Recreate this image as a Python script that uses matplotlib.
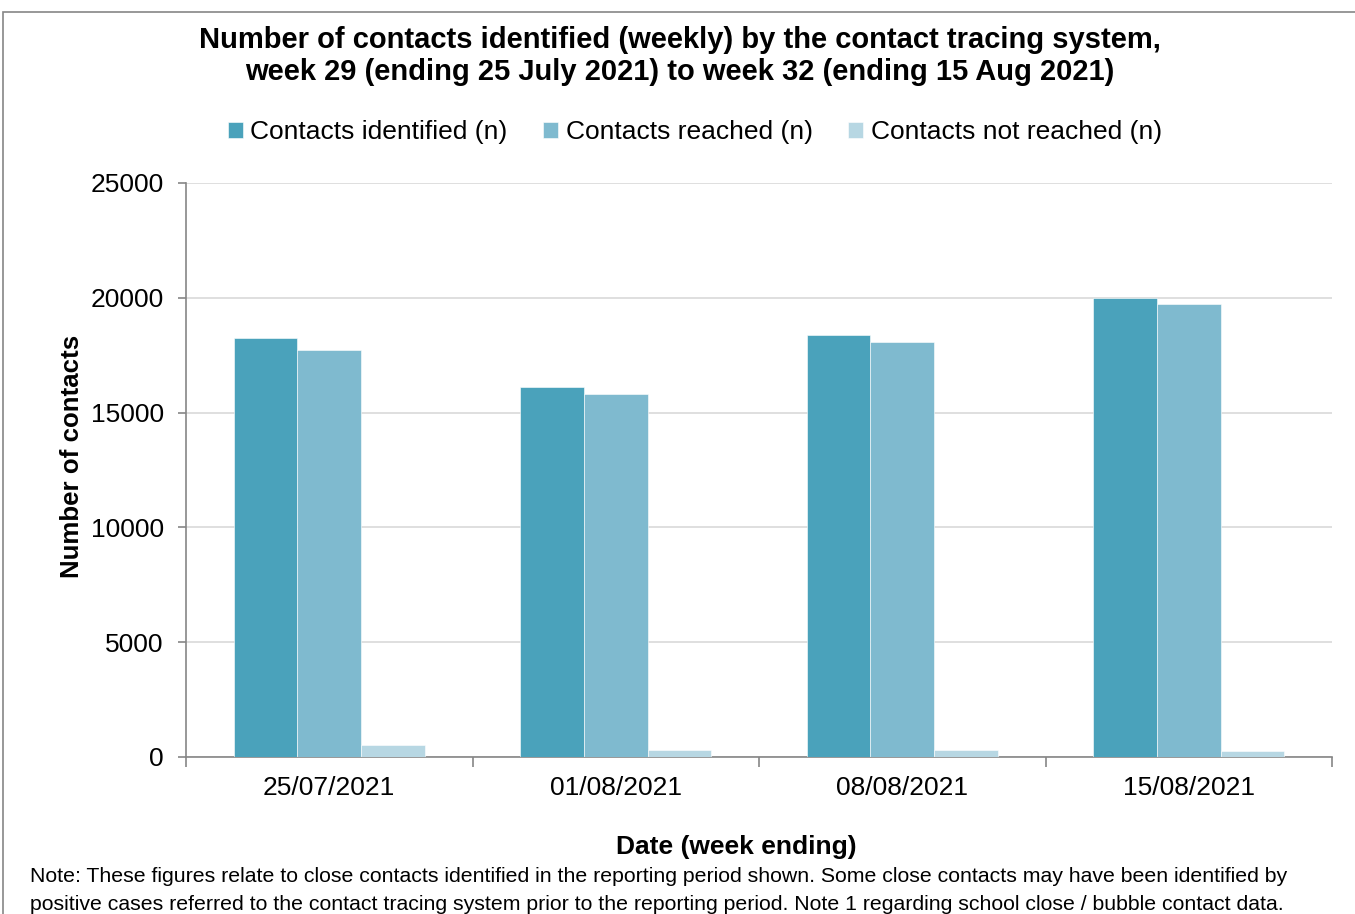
import matplotlib
matplotlib.use("Agg")
import matplotlib.pyplot as plt
import numpy as np
from matplotlib.patches import Rectangle

plt.rcParams['font.family'] = ['Liberation Sans', 'DejaVu Sans']

categories = ["25/07/2021", "01/08/2021", "08/08/2021", "15/08/2021"]
identified = [18230, 16110, 18370, 19990]
reached = [17720, 15810, 18080, 19730]
not_reached = [510, 300, 290, 260]
series_names = ["Contacts identified (n)", "Contacts reached (n)", "Contacts not reached (n)"]
colors = ["#4AA2BB", "#7FBACF", "#B7D7E3"]

W, H = 1355, 914
fig = plt.figure(figsize=(W / 100, H / 100), dpi=100)
ax = fig.add_axes([186 / W, 1 - 757 / H, (1332 - 186) / W, (757 - 183) / H])

x = np.arange(len(categories))
bw = 0.222
for i, (vals, name, c) in enumerate(zip([identified, reached, not_reached], series_names, colors)):
    ax.bar(x + (i - 1) * bw, vals, width=bw, color=c, label=name, zorder=3,
           edgecolor='white', linewidth=0.4)

ax.set_xlim(-0.5, len(categories) - 0.5)
ax.set_ylim(0, 25000)
ax.set_yticks(np.arange(0, 25001, 5000))
ax.set_yticklabels([str(v) for v in range(0, 25001, 5000)], fontsize=19)
ax.yaxis.grid(True, color='#D9D9D9', linewidth=1.2, zorder=0)
ax.set_xticks(x)
ax.set_xticklabels(categories, fontsize=19)
ax.set_xticks(np.arange(-0.5, len(categories), 1), minor=True)
ax.tick_params(axis='x', which='major', length=0, pad=14)
ax.tick_params(axis='x', which='minor', length=7, color='#868686', width=1.2)
ax.tick_params(axis='y', length=6, color='#868686', width=1.2, pad=10)
for s in ['top', 'right']:
    ax.spines[s].set_visible(False)
for s in ['left', 'bottom']:
    ax.spines[s].set_color('#868686')
    ax.spines[s].set_linewidth(1.2)

fig.text(72 / W, 1 - 456 / H, "Number of contacts", fontsize=18.6, fontweight='bold',
         rotation=90, ha='center', va='center')
fig.text(736 / W, 1 - 847 / H, "Date (week ending)", fontsize=19, fontweight='bold',
         ha='center', va='center')

fig.text(680 / W, 1 - 56 / H,
         "Number of contacts identified (weekly) by the contact tracing system,\n"
         "week 29 (ending 25 July 2021) to week 32 (ending 15 Aug 2021)",
         fontsize=21, fontweight='bold', ha='center', va='center', linespacing=1.22)

leg = fig.legend(loc='center', bbox_to_anchor=(695 / W, 1 - 132 / H), ncol=3,
                 frameon=False, fontsize=19, handlelength=0.55, handleheight=0.55,
                 handletextpad=0.3, columnspacing=1.35)

fig.text(30 / W, 1 - 877 / H,
         "Note: These figures relate to close contacts identified in the reporting period shown. Some close contacts may have been identified by",
         fontsize=15.3, ha='left', va='center')
fig.text(30 / W, 1 - 904 / H,
         "positive cases referred to the contact tracing system prior to the reporting period. Note 1 regarding school close / bubble contact data.",
         fontsize=15.3, ha='left', va='center')

fig.patches.append(Rectangle((3 / W, -0.1), 1.2, 1 - 12 / H + 0.1, transform=fig.transFigure,
                             fill=False, edgecolor='#868686', linewidth=1.2))

fig.savefig("out.png", dpi=100)
